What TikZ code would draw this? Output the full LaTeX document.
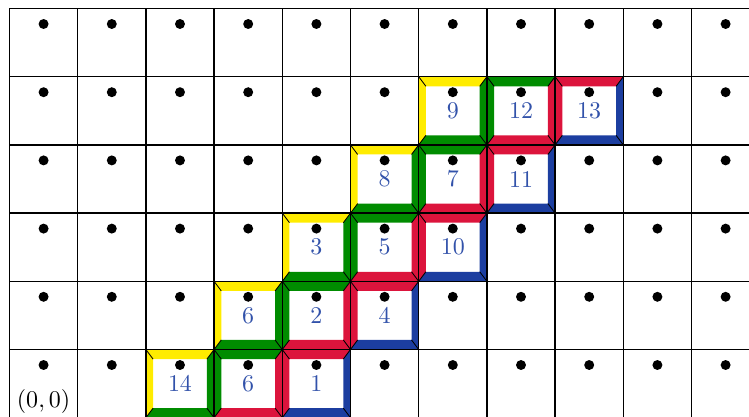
\documentclass[tikz,border=0pt]{standalone}
\usetikzlibrary{calc}
\definecolor{cyel}{RGB}{255,236,0}
\definecolor{cgrn}{RGB}{0,140,0}
\definecolor{cred}{RGB}{220,20,60}
\definecolor{cblu}{RGB}{28,62,160}
\definecolor{clab}{RGB}{50,82,170}
\tikzset{
  gridline/.style={line width=0.6pt,black},
  miterline/.style={line width=0.35pt,black},
  numlabel/.style={text=clab,inner sep=0pt,font=\fontsize{10}{12}\selectfont},
  dotmark/.style={fill=black}
}
\def\hx{0.105}
\def\hy{0.14}
\newcommand\bevelcell[4]{%
  \begin{scope}[shift={(#1,#2)}]
    \fill[#3] (0,0) -- (0,1) -- (1,1) -- (1-\hx,1-\hy) -- (\hx,1-\hy) -- (\hx,\hy) -- cycle;
    \fill[#4] (0,0) -- (1,0) -- (1,1) -- (1-\hx,1-\hy) -- (1-\hx,\hy) -- (\hx,\hy) -- cycle;
    \draw[miterline] (0,0) -- (\hx,\hy) (1,0) -- (1-\hx,\hy) (1,1) -- (1-\hx,1-\hy) (0,1) -- (\hx,1-\hy);
  \end{scope}}
\begin{document}
\begin{tikzpicture}
\begin{scope}[shift={(0.139,-0.025)}]
\useasboundingbox (-0.139,0.025) rectangle (10.843,6.125);
\clip (-0.139,0.025) rectangle (10.843,6.125);
% bevelled cells
\bevelcell{2}{0}{cyel}{cgrn}
\bevelcell{3}{0}{cgrn}{cred}
\bevelcell{4}{0}{cred}{cblu}
\bevelcell{3}{1}{cyel}{cgrn}
\bevelcell{4}{1}{cgrn}{cred}
\bevelcell{5}{1}{cred}{cblu}
\bevelcell{4}{2}{cyel}{cgrn}
\bevelcell{5}{2}{cgrn}{cred}
\bevelcell{6}{2}{cred}{cblu}
\bevelcell{5}{3}{cyel}{cgrn}
\bevelcell{6}{3}{cgrn}{cred}
\bevelcell{7}{3}{cred}{cblu}
\bevelcell{6}{4}{cyel}{cgrn}
\bevelcell{7}{4}{cgrn}{cred}
\bevelcell{8}{4}{cred}{cblu}
% grid
\draw[gridline] (0,0) grid (11,6);
% dots
\foreach \i in {0,...,10}
  \foreach \j in {0,...,5}
    \fill[dotmark] (\i+0.5,\j+0.773) circle (0.073);
% labels
\node[inner sep=0pt,font=\fontsize{10}{12}\selectfont] (origin) at (0.5,0.235) {$(0,0)$};
\node[numlabel] (a14) at (2.5,0.5) {14};
\node[numlabel] (a6b) at (3.5,0.5) {6};
\node[numlabel] (a1) at (4.5,0.5) {1};
\node[numlabel] (a6) at (3.5,1.5) {6};
\node[numlabel] (a2) at (4.5,1.5) {2};
\node[numlabel] (a4) at (5.5,1.5) {4};
\node[numlabel] (a3) at (4.5,2.5) {3};
\node[numlabel] (a5) at (5.5,2.5) {5};
\node[numlabel] (a10) at (6.5,2.5) {10};
\node[numlabel] (a8) at (5.5,3.5) {8};
\node[numlabel] (a7) at (6.5,3.5) {7};
\node[numlabel] (a11) at (7.5,3.5) {11};
\node[numlabel] (a9) at (6.5,4.5) {9};
\node[numlabel] (a12) at (7.5,4.5) {12};
\node[numlabel] (a13) at (8.5,4.5) {13};
\end{scope}
\end{tikzpicture}
\end{document}
